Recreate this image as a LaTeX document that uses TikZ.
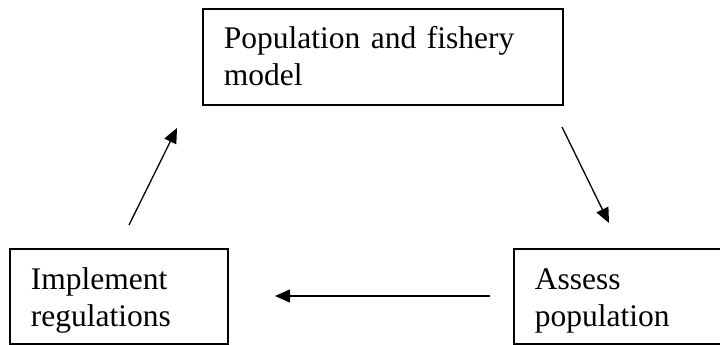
\documentclass[tikz,border=0pt]{standalone}
\usepackage{fontspec}
\setmainfont{Liberation Serif}
\usetikzlibrary{arrows.meta}
\begin{document}
\begin{tikzpicture}[x=1pt,y=-1pt,
  boxnode/.style={draw, line width=1.6pt, anchor=north west, align=left,
    inner xsep=21pt, inner ysep=0pt,
    font=\fontsize{31.5}{36.5}\selectfont},
  flow/.style={line width=1.3pt, -{Triangle[length=15pt,width=13pt]}}]
\useasboundingbox (0,0) rectangle (720,345);
\node[boxnode, text width=318pt, text height=40pt, text depth=56pt] (model) at (202,8)
  {Population and fishery\\model};
\node[boxnode, text width=176pt, text height=41pt, text depth=54pt] (impl) at (9,248)
  {Implement\\regulations};
\node[boxnode, text width=200pt, text height=41pt, text depth=54pt] (assess) at (513,248)
  {Assess\\population};
\coordinate (a1s) at (129,225);
\coordinate (a1e) at (177,128);
\coordinate (a2s) at (562,127);
\coordinate (a2e) at (609,223);
\coordinate (a3s) at (490,296);
\coordinate (a3e) at (275,296);
\draw[flow] (a1s) -- (a1e);
\draw[flow] (a2s) -- (a2e);
\draw[flow] (a3s) -- (a3e);
\end{tikzpicture}
\end{document}
